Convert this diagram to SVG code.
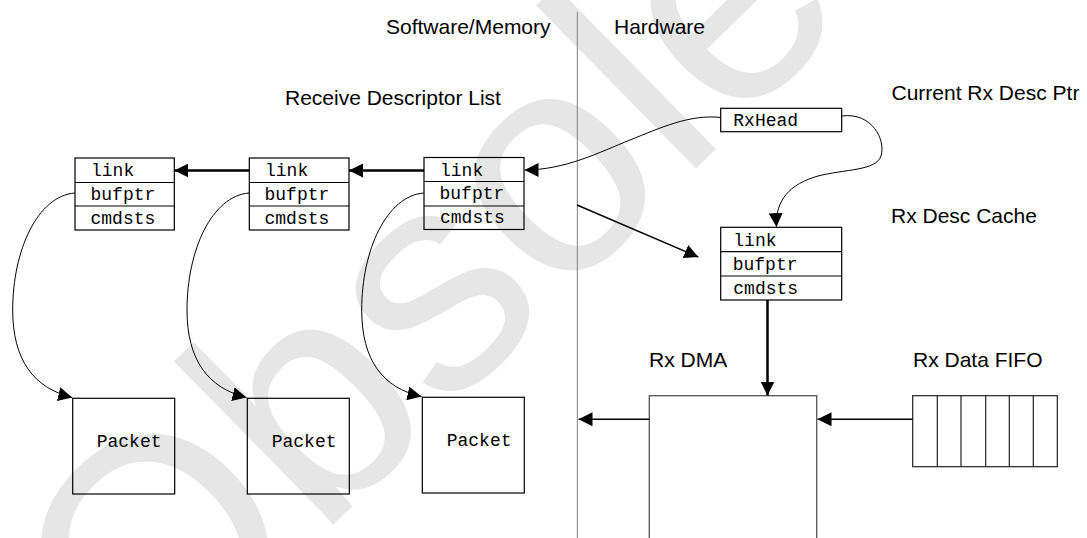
<svg xmlns="http://www.w3.org/2000/svg" width="1087" height="538" viewBox="0 0 1087 538">
<style>
.lbl{font-family:"Liberation Sans",Arial,sans-serif;font-size:21px;fill:#000}
.mono{font-family:"Liberation Mono","Courier New",monospace;font-size:18px;fill:#000}
.box{fill:none;stroke:#000;stroke-width:1.2}
.wm{font-family:"Liberation Sans",Arial,sans-serif;font-size:315px;fill:#e6e6e6}
.thick{fill:none;stroke:#000;stroke-width:2.5}
.thin{fill:none;stroke:#000;stroke-width:1}
.mid{fill:none;stroke:#000;stroke-width:1.4}
</style>
<defs>
<marker id="ah" viewBox="0 0 14 14" refX="14" refY="7" markerWidth="14" markerHeight="14" markerUnits="userSpaceOnUse" orient="auto">
<path d="M0,0 L14,7 L0,14 z" fill="#000"/>
</marker>
</defs>
<rect x="0" y="0" width="1087" height="538" fill="#fff"/>
<text class="wm" transform="translate(144,711) rotate(-44.5)" x="0" y="0">Obsolete</text>

<g id="labels">
<text class="lbl" x="386" y="33.5">Software/Memory</text>
<text class="lbl" x="614" y="33.5">Hardware</text>
<text class="lbl" x="285" y="105">Receive Descriptor List</text>
<text class="lbl" x="891.5" y="99.5">Current Rx Desc Ptr</text>
<text class="lbl" x="891" y="223">Rx Desc Cache</text>
<text class="lbl" x="649" y="367">Rx DMA</text>
<text class="lbl" x="913" y="367">Rx Data FIFO</text>
</g>

<line id="divider" x1="577.3" y1="12" x2="577.3" y2="538" stroke="#808080" stroke-width="1"/>

<g id="desc1">
<rect class="box" x="75" y="158" width="99.3" height="72"/>
<line class="box" x1="75" y1="182.5" x2="174.3" y2="182.5" stroke-width="1.8"/>
<line class="box" x1="75" y1="206" x2="174.3" y2="206"/>
<text class="mono" x="91" y="176">link</text>
<text class="mono" x="90.5" y="199.5">bufptr</text>
<text class="mono" x="90.5" y="223.5">cmdsts</text>
</g>
<g id="desc2">
<rect class="box" x="249.3" y="158" width="99.7" height="72"/>
<line class="box" x1="249.3" y1="182.5" x2="349" y2="182.5" stroke-width="1.8"/>
<line class="box" x1="249.3" y1="206" x2="349" y2="206"/>
<text class="mono" x="265" y="176">link</text>
<text class="mono" x="264.5" y="199.5">bufptr</text>
<text class="mono" x="264.5" y="223.5">cmdsts</text>
</g>
<g id="desc3">
<rect class="box" x="424" y="157.5" width="100" height="72"/>
<line class="box" x1="424" y1="181.5" x2="524" y2="181.5"/>
<line class="box" x1="424" y1="206" x2="524" y2="206" stroke-width="1.8"/>
<text class="mono" x="440" y="175.5">link</text>
<text class="mono" x="439.5" y="199">bufptr</text>
<text class="mono" x="440" y="223">cmdsts</text>
</g>

<g id="rxhead">
<rect class="box" x="720.7" y="108.3" width="121" height="23.4"/>
<text class="mono" x="733.3" y="125.5">RxHead</text>
</g>

<g id="cache">
<rect class="box" x="720.7" y="227.3" width="121" height="72.7"/>
<line class="box" x1="720.7" y1="251.7" x2="841.7" y2="251.7"/>
<line class="box" x1="720.7" y1="276" x2="841.7" y2="276"/>
<text class="mono" x="733.3" y="245.5">link</text>
<text class="mono" x="732.7" y="269.5">bufptr</text>
<text class="mono" x="733.3" y="293.5">cmdsts</text>
</g>

<g id="packet1">
<rect class="box" x="72.7" y="398.3" width="102" height="95.7"/>
<text class="mono" x="96.7" y="446.7">Packet</text>
</g>
<g id="packet2">
<rect class="box" x="247.3" y="398.3" width="102" height="95.7"/>
<text class="mono" x="271.7" y="446.7">Packet</text>
</g>
<g id="packet3">
<rect class="box" x="422.3" y="397.3" width="102" height="95.7"/>
<text class="mono" x="446.7" y="446">Packet</text>
</g>

<g id="dma">
<rect x="649.3" y="395.7" width="167.4" height="160" fill="none" stroke="#555" stroke-width="1.3"/>
</g>

<g id="fifo" fill="none" stroke="#222" stroke-width="1.2">
<rect x="912.7" y="395.7" width="144.6" height="71"/>
<line x1="937.3" y1="395.7" x2="937.3" y2="466.7"/>
<line x1="961" y1="395.7" x2="961" y2="466.7"/>
<line x1="985.7" y1="395.7" x2="985.7" y2="466.7"/>
<line x1="1009.3" y1="395.7" x2="1009.3" y2="466.7"/>
<line x1="1033.3" y1="395.7" x2="1033.3" y2="466.7"/>
</g>

<g id="connectors">
<path class="thick" d="M424,170.5 L349,170.5" marker-end="url(#ah)"/>
<path class="thick" d="M249.3,170.5 L174.3,170.5" marker-end="url(#ah)"/>
<path class="thin" d="M720.7,117.5 C690,114 660,128 630,140 S565,170 524.5,170" marker-end="url(#ah)"/>
<path class="thin" d="M841.7,116 C872,112 886,140 881,156 C876,171 845,169 818,176 C790,184 775,200 776.5,227" marker-end="url(#ah)"/>
<path class="mid" d="M577,205 L698.3,257" marker-end="url(#ah)"/>
<path class="thick" d="M767.5,300 L767.5,395.5" marker-end="url(#ah)"/>
<path class="mid" d="M912.7,419.3 L817.5,419.3" marker-end="url(#ah)"/>
<path class="mid" d="M649.3,419.3 L578.5,419.3" marker-end="url(#ah)"/>
<path class="thin" d="M74.7,193 C37.7,196 12.7,250 12.7,310 C12.7,360 33.7,388 72.2,397.5" marker-end="url(#ah)"/>
<path class="thin" d="M249,193 C212,196 187,250 187,310 C187,360 208,388 246.5,397.5" marker-end="url(#ah)"/>
<path class="thin" d="M423.7,193 C386.7,196 361.7,250 361.7,310 C361.7,360 382.7,388 421.5,396.5" marker-end="url(#ah)"/>
</g>
</svg>
